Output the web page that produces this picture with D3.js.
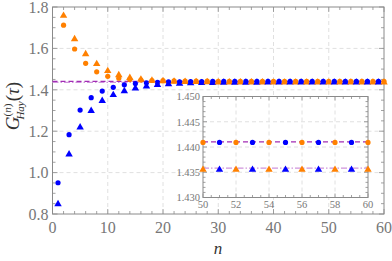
<!DOCTYPE html>
<html>
<head>
<meta charset="utf-8">
<script src="https://cdn.jsdelivr.net/npm/d3@7"></script>
<style>
  body { margin: 0; background: #fff; }
</style>
</head>
<body>
<script>
// n = 1..60 ; odd n drawn blue, even n drawn orange
const nVals = d3.range(1, 61)

const circleVals = [
  0.951, 1.712, 1.183, 1.597, 1.302, 1.528, 1.362, 1.487, 1.394, 1.465,
  1.412, 1.456, 1.424, 1.450, 1.430, 1.447, 1.434, 1.445, 1.436, 1.444,
  1.438, 1.443, 1.439, 1.442, 1.4395, 1.4418, 1.4400, 1.4415, 1.4403, 1.4413,
  1.4405, 1.4412, 1.4406, 1.4411, 1.4407, 1.4410, 1.4408, 1.4410, 1.4408, 1.4409,
  1.4409, 1.4409, 1.4409, 1.4409, 1.4409, 1.4409, 1.4409, 1.4409, 1.4409, 1.4409,
  1.4409, 1.4409, 1.4409, 1.4409, 1.4409, 1.4409, 1.4409, 1.4409, 1.4409, 1.4409
]

const triangleVals = [
  0.848, 1.758, 1.088, 1.645, 1.219, 1.573, 1.298, 1.525, 1.347, 1.491,
  1.375, 1.471, 1.394, 1.458, 1.407, 1.450, 1.417, 1.445, 1.424, 1.442,
  1.428, 1.440, 1.430, 1.439, 1.432, 1.438, 1.433, 1.437, 1.434, 1.4365,
  1.4345, 1.4362, 1.4350, 1.4360, 1.4352, 1.4358, 1.4353, 1.4357, 1.4354, 1.4356,
  1.4355, 1.4356, 1.4355, 1.4356, 1.4355, 1.4356, 1.4355, 1.4355, 1.4355, 1.4355,
  1.4355, 1.4355, 1.4355, 1.4355, 1.4355, 1.4355, 1.4355, 1.4355, 1.4355, 1.4355
]

const dashLevel = 1.441
const dotDashLevel = 1.4358

const xTicks = [0, 10, 20, 30, 40, 50, 60]
const yTicks = [0.8, 1.0, 1.2, 1.4, 1.6, 1.8]
const insetXTicks = [50, 52, 54, 56, 58, 60]
const insetYTicks = [1.430, 1.435, 1.440, 1.445, 1.450]

const width = 392
const height = 261
const serif = "'Liberation Serif', 'DejaVu Serif', serif"
const orange = '#ff8000'
const blue = '#0000ff'
const frameColor = '#8a8a8a'
const gridColor = '#e0e0e0'
const labelColor = '#777'

const svg = d3.select('body')
  .append('svg')
  .attr('width', width)
  .attr('height', height)
  .style('font-family', serif)

const points = nVals.map((n, i) => ({ n, c: circleVals[i], t: triangleVals[i] }))

function panel(g, x, y, opt) {
  const [x0, x1] = x.range()
  const [y0, y1] = y.range() // y0 bottom, y1 top

  g.append('rect')
    .attr('x', x0).attr('y', y1)
    .attr('width', x1 - x0).attr('height', y0 - y1)
    .attr('fill', '#fff')

  // dashed grid
  g.selectAll('.gx')
    .data(opt.xTicks.slice(1, -1))
    .enter().append('line')
    .attr('x1', d => x(d)).attr('x2', d => x(d))
    .attr('y1', y1).attr('y2', y0)
    .attr('stroke', gridColor).attr('stroke-dasharray', '4,3')
  g.selectAll('.gy')
    .data(opt.yTicks.slice(1, -1))
    .enter().append('line')
    .attr('x1', x0).attr('x2', x1)
    .attr('y1', d => y(d)).attr('y2', d => y(d))
    .attr('stroke', gridColor).attr('stroke-dasharray', '4,3')

  // inward ticks on all four sides
  const xt = d3.range(x.domain()[0], x.domain()[1] + 1e-9, opt.xMinor)
  const yt = d3.range(y.domain()[0], y.domain()[1] + 1e-9, opt.yMinor)
  const isMajX = d => opt.xTicks.some(t => Math.abs(t - d) < 1e-6)
  const isMajY = d => opt.yTicks.some(t => Math.abs(t - d) < 1e-6)
  const ticks = g.append('g').attr('stroke', frameColor).attr('stroke-width', 0.8)
  xt.forEach(d => {
    const l = isMajX(d) ? opt.major : opt.minor
    ticks.append('line').attr('x1', x(d)).attr('x2', x(d)).attr('y1', y0).attr('y2', y0 - l)
    ticks.append('line').attr('x1', x(d)).attr('x2', x(d)).attr('y1', y1).attr('y2', y1 + l)
  })
  yt.forEach(d => {
    const l = isMajY(d) ? opt.major : opt.minor
    ticks.append('line').attr('y1', y(d)).attr('y2', y(d)).attr('x1', x0).attr('x2', x0 + l)
    ticks.append('line').attr('y1', y(d)).attr('y2', y(d)).attr('x1', x1).attr('x2', x1 - l)
  })

  g.append('rect')
    .attr('x', x0).attr('y', y1)
    .attr('width', x1 - x0).attr('height', y0 - y1)
    .attr('fill', 'none').attr('stroke', frameColor).attr('stroke-width', 1)

  // reference lines
  g.append('line')
    .attr('x1', x0).attr('x2', x1)
    .attr('y1', y(dotDashLevel)).attr('y2', y(dotDashLevel))
    .attr('stroke', '#cf94dc').attr('stroke-width', 1.3)
    .attr('stroke-dasharray', '6,2,1.5,2')
  g.append('line')
    .attr('x1', x0).attr('x2', x1)
    .attr('y1', y(dashLevel)).attr('y2', y(dashLevel))
    .attr('stroke', '#a22cb4').attr('stroke-width', 1.3)
    .attr('stroke-dasharray', '5,3')

  const data = points.filter(d => d.n >= x.domain()[0] && d.n <= x.domain()[1])

  g.selectAll('.circ')
    .data(data)
    .enter().append('circle')
    .attr('cx', d => x(d.n))
    .attr('cy', d => y(d.c))
    .attr('r', 2.6)
    .attr('fill', d => d.n % 2 ? blue : orange)

  g.selectAll('.tri')
    .data(data)
    .enter().append('path')
    .attr('d', d3.symbol(d3.symbolTriangle, 24))
    .attr('transform', d => `translate(${x(d.n)},${y(d.t)})`)
    .attr('fill', d => d.n % 2 ? blue : orange)

  // tick labels
  g.selectAll('.xl')
    .data(opt.xTicks)
    .enter().append('text')
    .attr('x', d => x(d))
    .attr('y', y0 + opt.xLabOff)
    .attr('text-anchor', 'middle')
    .style('font-family', serif)
    .style('font-size', opt.fs + 'px')
    .style('fill', labelColor)
    .text(d => opt.xFmt(d))
  g.selectAll('.yl')
    .data(opt.yTicks)
    .enter().append('text')
    .attr('x', x0 - opt.yLabOff)
    .attr('y', d => y(d))
    .attr('dy', '0.36em')
    .attr('text-anchor', 'end')
    .style('font-family', serif)
    .style('font-size', opt.fs + 'px')
    .style('fill', labelColor)
    .text(d => opt.yFmt(d))
}

// main panel
const x = d3.scaleLinear().domain([0, 60]).range([52.5, 384])
const y = d3.scaleLinear().domain([0.8, 1.8]).range([214, 7])
panel(svg.append('g'), x, y, {
  xTicks, yTicks, xMinor: 2, yMinor: 0.05, major: 5, minor: 3,
  fs: 16, xLabOff: 19, yLabOff: 4,
  xFmt: d3.format('d'), yFmt: d3.format('.1f')
})

// inset
const xi = d3.scaleLinear().domain([50, 60]).range([203, 368])
const yi = d3.scaleLinear().domain([1.430, 1.450]).range([197.5, 96.5])
panel(svg.append('g'), xi, yi, {
  xTicks: insetXTicks, yTicks: insetYTicks, xMinor: 0.5, yMinor: 0.001, major: 4, minor: 2.5,
  fs: 10.5, xLabOff: 10, yLabOff: 3,
  xFmt: d3.format('d'), yFmt: d3.format('.3f')
})

// axis titles
svg.append('text')
  .attr('x', 218).attr('y', 254)
  .attr('text-anchor', 'middle')
  .style('font-family', serif)
  .style('font-size', '17px').style('font-style', 'italic').style('fill', '#333')
  .text('n')

const yt = svg.append('text')
  .attr('transform', 'translate(19,106) rotate(-90)')
  .attr('text-anchor', 'middle')
  .style('font-family', serif)
  .style('font-size', '19px').style('fill', '#333')
yt.append('tspan').style('font-style', 'italic').text('G')
yt.append('tspan').attr('dy', -8).style('font-size', '11px').text('(')
yt.append('tspan').style('font-size', '11px').style('font-style', 'italic').text('n')
yt.append('tspan').style('font-size', '11px').text(')')
yt.append('tspan').attr('dx', -16).attr('dy', 13).style('font-size', '11px').style('font-style', 'italic').text('Hay')
yt.append('tspan').attr('dy', -5).text('(')
yt.append('tspan').style('font-style', 'italic').text('τ')
yt.append('tspan').text(')')
</script>
</body>
</html>
